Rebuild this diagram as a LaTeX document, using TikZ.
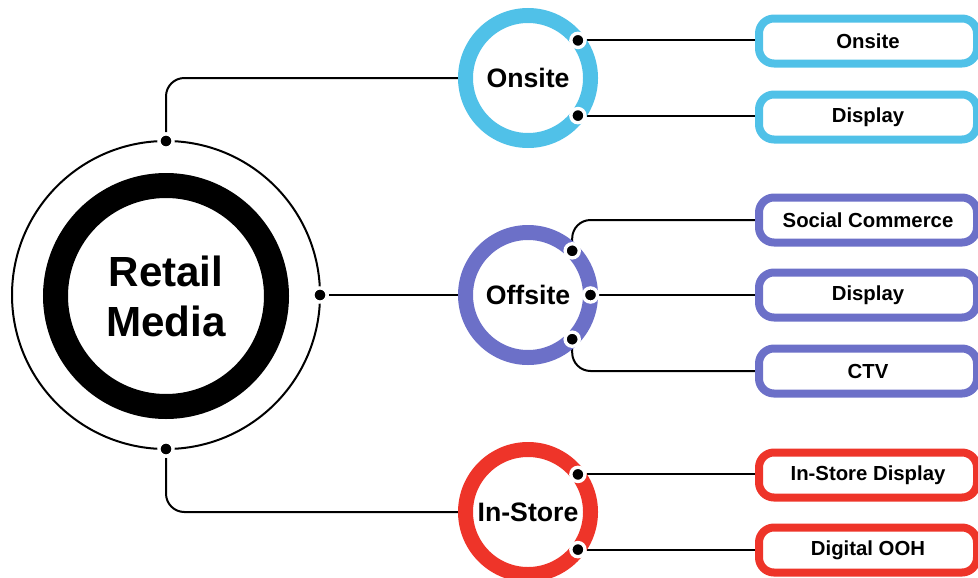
\documentclass[tikz,border=0pt]{standalone}
\usepackage{fontspec}
\setmainfont{Liberation Sans}
\usetikzlibrary{positioning}

\definecolor{onblue}{RGB}{80,193,232}
\definecolor{offpurple}{RGB}{108,112,200}
\definecolor{storered}{RGB}{238,52,41}

\pgfdeclarelayer{back}
\pgfsetlayers{back,main}

\begin{document}
\begin{tikzpicture}[x=0.6pt,y=-0.6pt,
  hub/.style={circle,draw=#1,fill=white,line width=9pt,outer sep=0pt,minimum size=75pt,inner sep=0pt,font=\bfseries\fontsize{16}{18}\selectfont},
  leaf/.style={draw=#1,fill=white,line width=4.8pt,rounded corners=9pt,minimum width=130.8pt,minimum height=27pt,inner sep=0pt,font=\bfseries\fontsize{12.2}{14}\selectfont},
  dot/.style={circle,fill=black,draw=white,line width=2pt,minimum size=8.5pt,inner sep=0pt},
  wire/.style={line width=1.2pt,rounded corners=11pt}]

\useasboundingbox (0,0) rectangle (978,577);

\node[circle,draw,line width=1.2pt,outer sep=0pt,minimum size=184.8pt](rm) at (166,295) {};
\node[circle,draw,line width=15pt,minimum size=132.6pt,align=center,font=\bfseries\fontsize{25.3}{30}\selectfont](core) at (166,296) {Retail\\Media};

\node[hub=onblue](on) at (528,78) {Onsite};
\node[hub=offpurple](off) at (528,295) {Offsite};
\node[hub=storered](st) at (528,512) {In-Store};

\node[leaf=onblue](on1) at (868,41) {Onsite};
\node[leaf=onblue](on2) at (868,117) {Display};
\node[leaf=offpurple](off1) at (868,220) {Social Commerce};
\node[leaf=offpurple](off2) at (868,295) {Display};
\node[leaf=offpurple](off3) at (868,371) {CTV};
\node[leaf=storered](st1) at (868,475) {In-Store Display};
\node[leaf=storered](st2) at (868,550) {Digital OOH};

\node[dot](rmt) at (rm.north) {};
\node[dot](rmr) at (rm.east) {};
\node[dot](rmb) at (rm.south) {};
\node[dot](ond1) at (on.37) {};
\node[dot](ond2) at (on.-37) {};
\node[dot](offd1) at (off.45) {};
\node[dot](offd2) at (off.0) {};
\node[dot](offd3) at (off.-45) {};
\node[dot](std1) at (st.37) {};
\node[dot](std2) at (st.-37) {};

\begin{pgfonlayer}{back}
\draw[wire] (rmt) |- (on);
\draw[wire] (rmr) -- (off);
\draw[wire] (rmb) |- (st);
\draw[wire] (ond1) -- (ond1 -| on1);
\draw[wire] (ond2) -- (ond2 -| on2);
\draw[wire] (offd1) |- (off1.west);
\draw[wire] (offd2) -- (offd2 -| off2);
\draw[wire] (offd3) |- (off3.west);
\draw[wire] (std1) -- (std1 -| st1);
\draw[wire] (std2) -- (std2 -| st2);
\end{pgfonlayer}

\end{tikzpicture}
\end{document}
